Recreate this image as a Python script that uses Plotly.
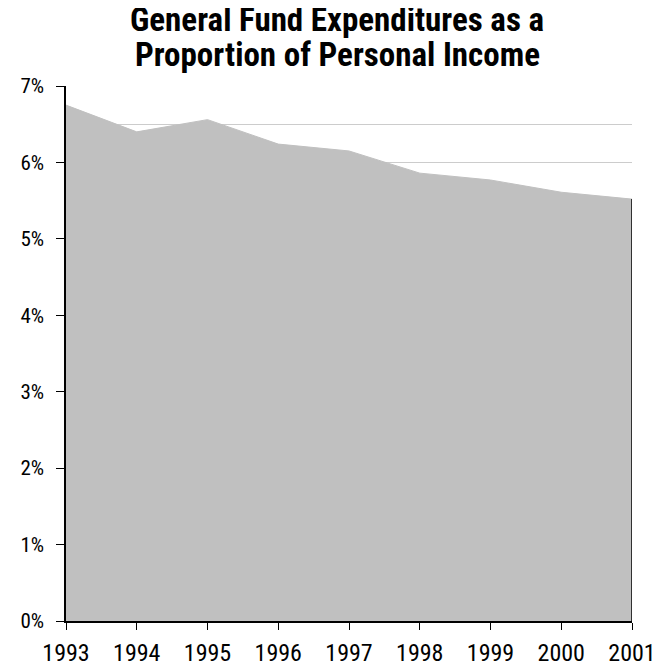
import plotly.graph_objects as go

years = [1993, 1994, 1995, 1996, 1997, 1998, 1999, 2000, 2001]
share = [6.75, 6.40, 6.56, 6.24, 6.15, 5.86, 5.77, 5.61, 5.52]
y_ticks = [0, 1, 2, 3, 4, 5, 6, 7]
y_labels = ["0%", "1%", "2%", "3%", "4%", "5%", "6%", "7%"]
title_lines = ["General Fund Expenditures as a", "Proportion of Personal Income"]

FONT = "Roboto Condensed, Liberation Sans Narrow, sans-serif"

fig = go.Figure()
fig.add_trace(go.Scatter(
    x=years, y=share, mode="lines", fill="tozeroy",
    fillcolor="#c0c0c0", line=dict(color="#c0c0c0", width=1),
    hoverinfo="x+y", showlegend=False,
))
fig.add_trace(go.Scatter(
    x=[years[-1], years[-1]], y=[0, share[-1]], mode="lines",
    line=dict(color="black", width=1.5), showlegend=False, hoverinfo="skip",
))

for line, ypos in zip(title_lines, [1.1234, 1.0598]):
    fig.add_annotation(
        text="<b>" + line + "</b>", xref="paper", yref="paper",
        x=0.4788, y=ypos, xanchor="center", yanchor="middle", showarrow=False,
        font=dict(family=FONT, size=33, color="black"),
    )

# page body has an 8px margin, so the figure is sized/offset to compensate
fig.update_layout(
    width=659, height=655,
    margin=dict(l=58, r=35, t=78, b=42, autoexpand=False),
    paper_bgcolor="white", plot_bgcolor="white",
    font=dict(family=FONT, size=20, color="black"),
)
fig.update_xaxes(
    range=[1993, 2001], tickvals=years, ticktext=[str(y) for y in years],
    showgrid=False, zeroline=False, ticks="outside", ticklen=7, tickcolor="black",
    showline=True, linecolor="black", linewidth=1.5, automargin=False,
    tickfont=dict(family=FONT, size=24), ticklabelstandoff=2,
)
fig.update_yaxes(
    range=[0, 7], tickvals=y_ticks, ticktext=y_labels,
    showgrid=True, gridcolor="#cccccc", gridwidth=1,
    minor=dict(dtick=0.5, showgrid=True, gridcolor="#cccccc", gridwidth=1),
    zeroline=False, ticks="outside", ticklen=8, tickcolor="black",
    showline=True, linecolor="black", linewidth=1.5, automargin=False,
    tickfont=dict(family=FONT, size=21), ticklabelstandoff=8,
    layer="below traces",
)
fig.write_html("out.html")
